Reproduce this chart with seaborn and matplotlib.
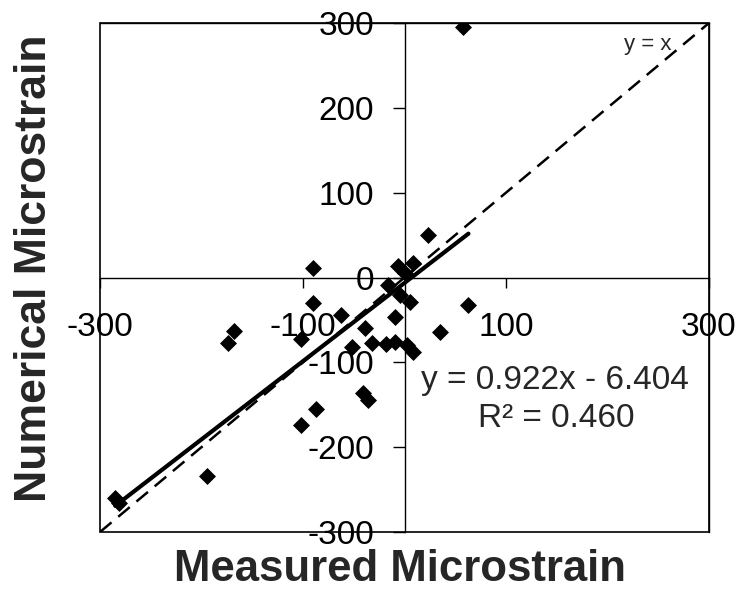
import matplotlib
matplotlib.use("Agg")
import matplotlib.pyplot as plt
import seaborn as sns
import pandas as pd
import numpy as np
from matplotlib.patches import Rectangle

# ---- data ----
measured = [58, 23, 8, -6, 0, -90, -16, -4, 5, -90, -63, -9, -168, -174, -102,
            -39, -52, -32, -18, -9, 2, 8, 63, 35, -41, -36, -87, -102, -195,
            -285, -281]
numerical = [295, 50, 17, 14, 5, 11, -9, -21, -29, -30, -44, -46, -63, -77, -72,
             -60, -82, -77, -78, -76, -80, -88, -32, -64, -136, -144, -155, -174,
             -234, -260, -266]
slope = 0.922
intercept = -6.404
r2 = 0.460
x_ticks = [-300, -100, 100, 300]
y_ticks = [300, 200, 100, 0, -100, -200, -300]
axis_range = [-300, 300]

df = pd.DataFrame({"Measured": measured, "Numerical": numerical})
trend_x = [min(measured), max(measured)]
trend = pd.DataFrame({"x": trend_x, "y": [slope * v + intercept for v in trend_x]})
ident = pd.DataFrame({"x": axis_range, "y": axis_range})

sns.set_style("white")
plt.rcParams["font.family"] = ["Liberation Sans", "DejaVu Sans"]

fig = plt.figure(figsize=(7.42, 5.90), dpi=100)
ax = fig.add_axes([100 / 742, 1 - 532 / 590, 609 / 742, 509 / 590])

sns.lineplot(data=ident, x="x", y="y", ax=ax, color="black", lw=1.8,
             linestyle=(0, (6, 3.5)), zorder=2)
sns.lineplot(data=trend, x="x", y="y", ax=ax, color="black", lw=3.0, zorder=3)
sns.scatterplot(data=df, x="Measured", y="Numerical", ax=ax, marker="D",
                s=75, color="black", edgecolor="black", linewidth=0, zorder=4)

ax.set_xlim(axis_range)
ax.set_ylim(axis_range)
ax.set_xticks(x_ticks)
ax.set_yticks(y_ticks)
ax.set_xticklabels([str(v) for v in x_ticks])
ax.set_yticklabels([str(v) for v in y_ticks])

ax.spines["left"].set_position(("data", 0))
ax.spines["bottom"].set_position(("data", 0))
for s in ax.spines.values():
    s.set_visible(True)
    s.set_color("black")
    s.set_linewidth(1.0)
ax.add_patch(Rectangle((0, 0), 1, 1, transform=ax.transAxes, fill=False,
                       lw=1.2, edgecolor="black", clip_on=False, zorder=5))

ax.tick_params(axis="x", direction="out", length=7, width=1, pad=18,
               labelsize=24, colors="black", bottom=True, top=False)
ax.tick_params(axis="y", direction="out", length=9, width=1, pad=13,
               labelsize=24, colors="black", left=True, right=False)

ax.set_xlabel("Measured Microstrain", fontsize=31.5, fontweight="bold")
ax.set_ylabel("Numerical Microstrain", fontsize=32, fontweight="bold")
ax.xaxis.set_label_coords(0.493, -0.073)
ax.xaxis.label.set_va("center")
ax.yaxis.set_label_coords(-0.107, 0.519)
ax.yaxis.label.set_va("center")

ax.text(240, 275, "y = x", fontsize=16, ha="center", va="center")
ax.text(148, -131, f"y = {slope:.3f}x - {abs(intercept):.3f}", fontsize=24,
        ha="center", va="baseline")
ax.text(150, -176, f"R² = {r2:.3f}", fontsize=24, ha="center", va="baseline")

fig.savefig("out.png", dpi=100)
